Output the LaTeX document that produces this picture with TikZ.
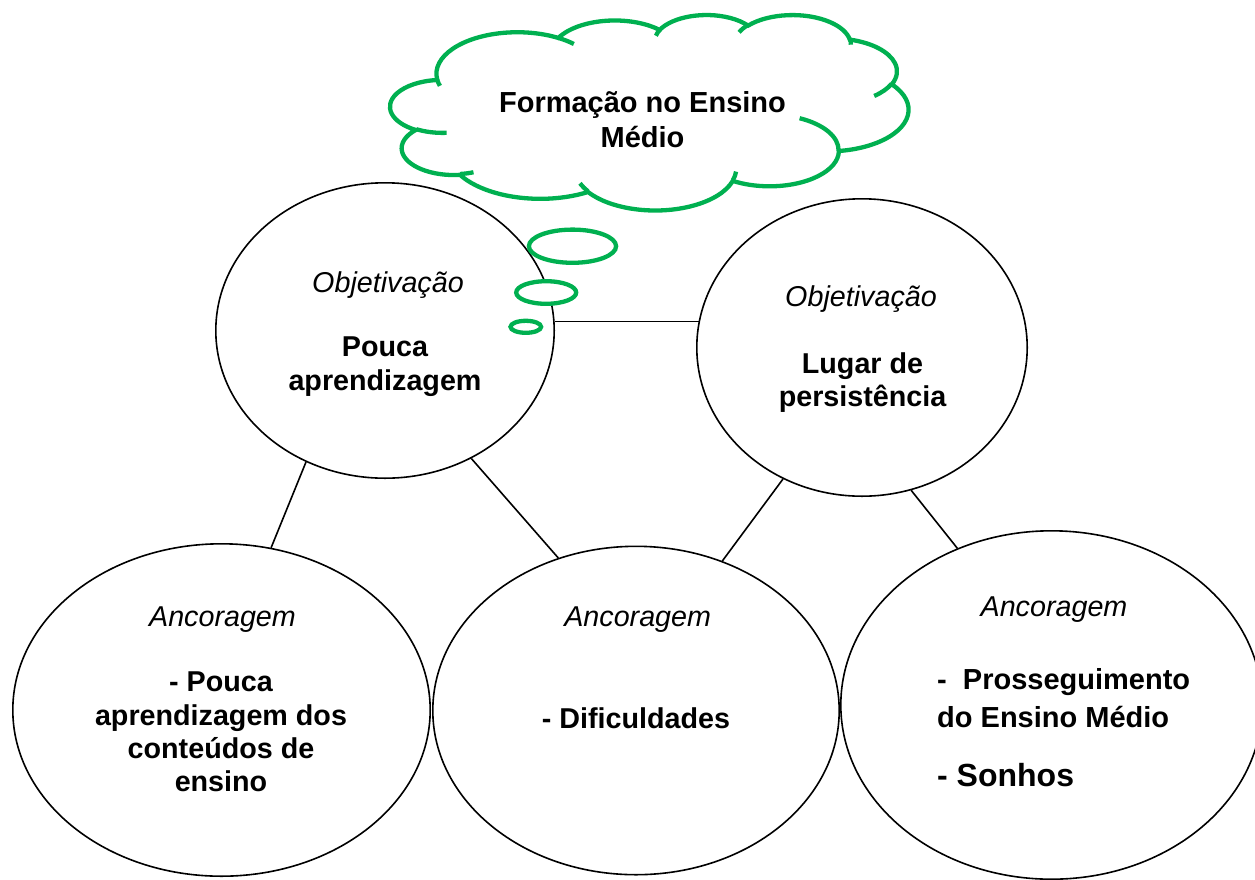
\documentclass[tikz,border=0pt]{standalone}
\usepackage{fontspec}
\setmainfont{Liberation Sans}
\usetikzlibrary{shapes.geometric}
\definecolor{cloudgreen}{RGB}{0,176,80}
\begin{document}
\begin{tikzpicture}[x=1pt,y=-1pt,
  ell/.style={ellipse, draw=black, line width=1.6pt, inner sep=0pt},
  conn/.style={draw=black, line width=1.6pt},
  cloudline/.style={draw=cloudgreen, line width=4.3pt, fill=white},
  crease/.style={draw=cloudgreen, line width=4.3pt},
  bubble/.style={draw=cloudgreen, line width=4.3pt, fill=white},
  it/.style={font=\fontsize{28.7}{33.3}\selectfont\itshape, anchor=base, inner sep=0pt},
  bd/.style={font=\fontsize{28.7}{33.3}\selectfont\bfseries, anchor=base, inner sep=0pt}]
\useasboundingbox (0,0) rectangle (1255,879);

% ellipses
\node[ell, minimum width=338.4pt, minimum height=295.4pt] (tl) at (385,330.5) {};
\node[ell, minimum width=330.4pt, minimum height=297.4pt] (tr) at (862,347.5) {};
\node[ell, minimum width=417.4pt, minimum height=332.4pt] (bl) at (221.5,710) {};
\node[ell, minimum width=406.4pt, minimum height=328.4pt] (bm) at (636,710.5) {};
\node[ell, minimum width=421.4pt, minimum height=348.4pt] (br) at (1051.5,705) {};

% connectors
\draw[conn] (tl.-121.1) -- (bl.73.5);
\draw[conn] (tl.-56.7) -- (bm.117.4);
\draw[conn] (tr.-121.4) -- (bm.60.3);
\draw[conn] (tr.-71.5) -- (br.121.2);
\draw[conn] (tl.3.3) -- (tl.3.3 -| tr.171);

% cloud
\begin{scope}[shift={(390.4pt,-14.4pt)}, x=1.19907pt, y=-0.45231pt]
\path[cloudline] (39.00,143.70)
  arc[start angle=-187.745, end angle=-59.636, x radius=67.53, y radius=91.90]
  arc[start angle=-152.038, end angle=-45.467, x radius=53.33, y radius=72.67]
  arc[start angle=-153.495, end angle=-37.324, x radius=43.65, y radius=59.45]
  arc[start angle=-139.701, end angle=-10.212, x radius=48.57, y radius=65.95]
  arc[start angle=-74.768, end angle=23.211, x radius=53.33, y radius=72.73]
  arc[start angle=-37.521, end angle=81.862, x radius=67.75, y radius=92.20]
  arc[start angle=0.4596, end angle=121.975, x radius=57.85, y radius=78.67]
  arc[start angle=16.843, end angle=146.215, x radius=67.52, y radius=92.15]
  arc[start angle=58.977, end angle=150.184, x radius=77.20, y radius=105.43]
  arc[start angle=-276.694, end angle=-136.894, x radius=43.60, y radius=59.18]
  arc[start angle=-239.644, end angle=-95.887, x radius=43.45, y radius=59.45]
  -- cycle;
\draw[crease] (46.93,261.77) arc[start angle=85.546, end angle=120.356, x radius=43.45, y radius=59.45];
\draw[crease] (69.28,348.99) arc[start angle=68.237, end angle=83.306, x radius=43.60, y radius=59.18];
\draw[crease] (164.78,390.90) arc[start angle=146.215, end angle=158.473, x radius=67.52, y radius=92.15];
\draw[crease] (288.27,347.51) arc[start angle=4.738, end angle=16.843, x radius=67.52, y radius=92.15];
\draw[crease] (341.29,229.54) arc[start angle=-64.026, end angle=0.4596, x radius=57.85, y radius=78.67];
\draw[crease] (417.98,153.54) arc[start angle=23.211, end angle=49.654, x radius=53.33, y radius=72.73];
\draw[crease] (383.24,54.26) arc[start angle=-10.212, end angle=0.8168, x radius=48.57, y radius=65.95];
\draw[crease] (290.78,39.52) arc[start angle=-156.283, end angle=-139.701, x radius=48.57, y radius=65.95];
\draw[crease] (221.41,47.20) arc[start angle=-167.726, end angle=-153.495, x radius=43.65, y radius=59.45];
\draw[crease] (140.00,51.92) arc[start angle=-59.636, end angle=-45.742, x radius=67.53, y radius=91.90];
\draw[crease] (41.27,157.89) arc[start angle=163.196, end angle=172.254, x radius=67.53, y radius=91.90];
\end{scope}

% thought bubbles
\draw[bubble] (572.5,246.2) ellipse [x radius=43.6, y radius=16.6];
\draw[bubble] (546.2,292.5) ellipse [x radius=30, y radius=11.3];
\draw[bubble] (525.8,326.8) ellipse [x radius=15.3, y radius=6];

% texts
\node[bd, font=\fontsize{29}{35}\selectfont\bfseries] (cloudtxt) at (642.5,112.7)
  {\begin{tabular}[t]{@{}c@{}}Formação no Ensino\\Médio\end{tabular}};

\node[it] (tlobj) at (388,292.7) {Objetivação};
\node[bd] (tltxt) at (385,356.7) {\begin{tabular}[t]{@{}c@{}}Pouca\\aprendizagem\end{tabular}};

\node[it] (trobj) at (861,306.7) {Objetivação};
\node[bd] (trtxt) at (862.5,373.3) {\begin{tabular}[t]{@{}c@{}}Lugar de\\persistência\end{tabular}};

\node[it] (blanc) at (222.5,626) {Ancoragem};
\node[bd] (bltxt) at (221,691.7) {\begin{tabular}[t]{@{}c@{}}- Pouca\\aprendizagem dos\\conteúdos de\\ensino\end{tabular}};

\node[it] (bmanc) at (637.7,626.7) {Ancoragem};
\node[bd] (bmtxt) at (636,728.3) {- Dificuldades};

\node[it] (branc) at (1054,616.7) {Ancoragem};
\node[bd, anchor=base west, font=\fontsize{29}{38.3}\selectfont\bfseries] (brtxt) at (937,689)
  {\begin{tabular}[t]{@{}l@{}}-\ \ Prosseguimento\\do Ensino Médio\\[21.1pt]{\fontsize{32}{38.3}\selectfont - Sonhos}\end{tabular}};
\end{tikzpicture}
\end{document}
